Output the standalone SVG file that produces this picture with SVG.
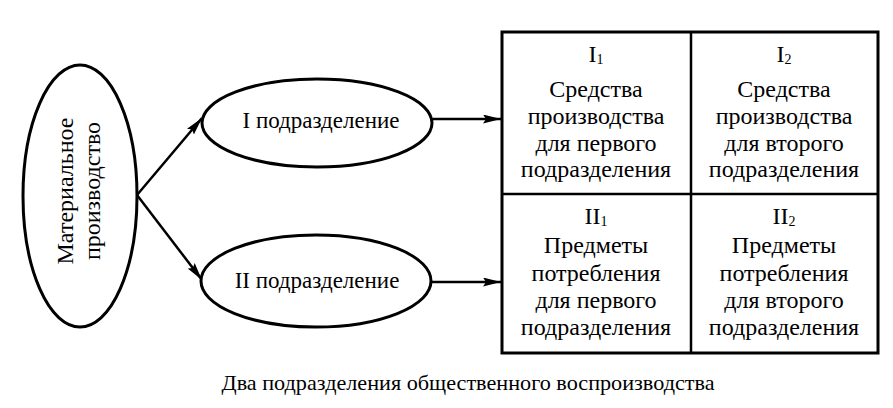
<svg xmlns="http://www.w3.org/2000/svg" width="893" height="408" viewBox="0 0 893 408">
<defs>
<marker id="arr" viewBox="0 0 18 9" refX="18" refY="4.5" markerWidth="18" markerHeight="9" markerUnits="userSpaceOnUse" orient="auto">
<path d="M0,0 L18,4.5 L0,9 L3,4.5 z" fill="#000"/>
</marker>
<style>
.sh{fill:#fff;stroke:#000;stroke-width:3}
.ln{stroke:#000;stroke-width:2.5;fill:none}
.c{text-anchor:middle}
</style>
</defs>
<rect width="893" height="408" fill="#fff"/>
<g id="connectors">
<line class="ln" x1="137" y1="195" x2="202" y2="118" marker-end="url(#arr)"/>
<line class="ln" x1="137" y1="195" x2="202" y2="280" marker-end="url(#arr)"/>
<line class="ln" x1="433" y1="119" x2="501" y2="119" marker-end="url(#arr)"/>
<line class="ln" x1="425" y1="282" x2="501" y2="282" marker-end="url(#arr)"/>
</g>
<g font-family="Liberation Serif, Times New Roman, serif" fill="#000">
<g id="material" font-size="24">
<ellipse class="sh" cx="80" cy="196" rx="57" ry="131"/>
<text class="c" transform="translate(73,191) rotate(-90)">Материальное</text>
<text class="c" transform="translate(100,191) rotate(-90)">производство</text>
</g>
<g id="div1" font-size="23">
<ellipse class="sh" cx="317" cy="123" rx="115" ry="44"/>
<text class="c" x="321" y="128">I подразделение</text>
</g>
<g id="div2" font-size="23">
<ellipse class="sh" cx="316" cy="281" rx="115" ry="46"/>
<text class="c" x="317" y="288">II подразделение</text>
</g>
<g id="grid">
<rect class="sh" x="502" y="32" width="376" height="321"/>
<line class="ln" x1="691" y1="32" x2="691" y2="353" stroke-width="3"/>
<line class="ln" x1="502" y1="194" x2="878" y2="194" stroke-width="3"/>
</g>
<g id="cell-I1" font-size="24">
<text class="c" x="596" y="62">I<tspan font-size="14" dy="2">1</tspan></text>
<text class="c" x="596" y="97">Средства</text>
<text class="c" x="596" y="124">производства</text>
<text class="c" x="596" y="151">для первого</text>
<text class="c" x="596" y="177">подразделения</text>
</g>
<g id="cell-I2" font-size="24">
<text class="c" x="784" y="62">I<tspan font-size="14" dy="2">2</tspan></text>
<text class="c" x="784" y="97">Средства</text>
<text class="c" x="784" y="124">производства</text>
<text class="c" x="784" y="151">для второго</text>
<text class="c" x="784" y="177">подразделения</text>
</g>
<g id="cell-II1" font-size="24">
<text class="c" x="596" y="224">II<tspan font-size="14" dy="2">1</tspan></text>
<text class="c" x="596" y="253">Предметы</text>
<text class="c" x="596" y="281">потребления</text>
<text class="c" x="596" y="308">для первого</text>
<text class="c" x="596" y="335">подразделения</text>
</g>
<g id="cell-II2" font-size="24">
<text class="c" x="784" y="224">II<tspan font-size="14" dy="2">2</tspan></text>
<text class="c" x="784" y="253">Предметы</text>
<text class="c" x="784" y="281">потребления</text>
<text class="c" x="784" y="308">для второго</text>
<text class="c" x="784" y="335">подразделения</text>
</g>
<g id="caption" font-size="22">
<text class="c" x="468" y="390" textLength="493" lengthAdjust="spacingAndGlyphs">Два подразделения общественного воспроизводства</text>
</g>
</g>
</svg>
